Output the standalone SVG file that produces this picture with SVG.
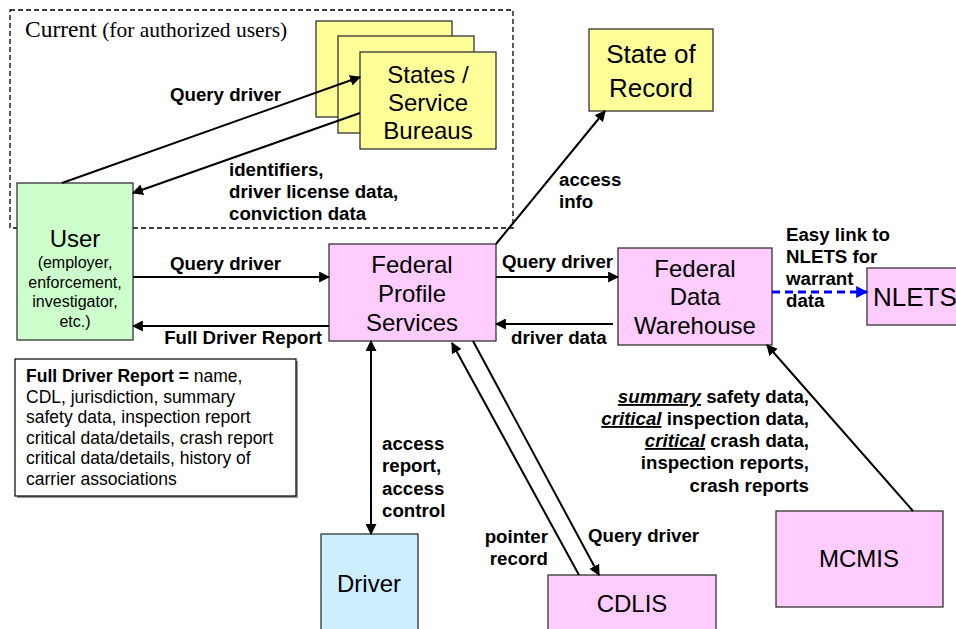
<svg xmlns="http://www.w3.org/2000/svg" width="956" height="629" viewBox="0 0 956 629">
<style>
.box{stroke:#333;stroke-width:1.3}
.y{fill:#ffff99}.p{fill:#ffccff}.g{fill:#ccffcc}.b{fill:#cceeff}
.nt{font-family:"Liberation Sans",Arial,sans-serif;font-size:24px;fill:#000;text-anchor:middle}
.lb{font-family:"Liberation Sans",Arial,sans-serif;font-size:18.7px;font-weight:bold;fill:#000}
.sm{font-family:"Liberation Sans",Arial,sans-serif;font-size:16px;fill:#000;text-anchor:middle}
.note{font-family:"Liberation Sans",Arial,sans-serif;font-size:17.5px;fill:#000}
.ln{stroke:#000;stroke-width:2;fill:none}
</style>
<defs>
<marker id="ah" viewBox="0 0 10 10" refX="9" refY="5" markerWidth="5.5" markerHeight="5.5" orient="auto-start-reverse"><path d="M0,0 L10,5 L0,10 z" fill="#000"/></marker>
<marker id="ahb" viewBox="0 0 10 10" refX="9" refY="5" markerWidth="4" markerHeight="4" orient="auto"><path d="M0,0 L10,5 L0,10 z" fill="#0000ff"/></marker>
</defs>
<rect x="0" y="0" width="956" height="629" fill="#fff"/>

<g id="current-region">
<rect x="10" y="10" width="503" height="218" fill="none" stroke="#000" stroke-width="1.3" stroke-dasharray="5,3"/>
<text x="25" y="37" font-family="Liberation Serif,Times New Roman,serif" fill="#000"><tspan font-size="23.5">Current</tspan><tspan font-size="21.5"> (for authorized users)</tspan></text>
</g>

<g id="states">
<rect class="box y" x="316" y="21" width="136" height="96"/>
<rect class="box y" x="338" y="36" width="136" height="97"/>
<rect class="box y" x="360" y="52" width="136" height="97"/>
<text class="nt" x="428" y="83">States /</text>
<text class="nt" x="428" y="111">Service</text>
<text class="nt" x="428" y="139">Bureaus</text>
</g>

<g id="state-of-record">
<rect class="box y" x="589" y="29" width="124" height="82"/>
<text class="nt" x="651" y="63" style="font-size:26px">State of</text>
<text class="nt" x="651" y="97" style="font-size:26px">Record</text>
</g>

<g id="user">
<rect class="box g" x="17" y="183" width="116" height="157"/>
<text class="nt" x="75" y="247">User</text>
<text class="sm" x="75" y="268">(employer,</text>
<text class="sm" x="75" y="288">enforcement,</text>
<text class="sm" x="75" y="307">investigator,</text>
<text class="sm" x="75" y="327">etc.)</text>
</g>

<g id="fps">
<rect class="box p" x="329" y="244" width="167" height="97"/>
<text class="nt" x="412" y="273">Federal</text>
<text class="nt" x="412" y="302">Profile</text>
<text class="nt" x="412" y="331">Services</text>
</g>

<g id="fdw">
<rect class="box p" x="618" y="248" width="154" height="97"/>
<text class="nt" x="695" y="277">Federal</text>
<text class="nt" x="695" y="305">Data</text>
<text class="nt" x="695" y="334">Warehouse</text>
</g>

<g id="nlets">
<rect class="box p" x="867" y="268" width="100" height="57"/>
<text class="nt" x="873" y="306" style="text-anchor:start;font-size:26px">NLETS</text>
</g>

<g id="driver">
<rect class="box b" x="321" y="534" width="97" height="100"/>
<text class="nt" x="369" y="592">Driver</text>
</g>

<g id="cdlis">
<rect class="box p" x="548" y="575" width="168" height="60"/>
<text class="nt" x="632" y="612">CDLIS</text>
</g>

<g id="mcmis">
<rect class="box p" x="776" y="511" width="167" height="96"/>
<text class="nt" x="859" y="567">MCMIS</text>
</g>

<g id="full-driver-report-note">
<rect x="17" y="361" width="281" height="137" fill="#999"/>
<rect x="15" y="359" width="281" height="137" fill="#fff" stroke="#000" stroke-width="1.2"/>
<text class="note" x="26" y="382"><tspan font-weight="bold">Full Driver Report =</tspan> name,</text>
<text class="note" x="26" y="403">CDL, jurisdiction, summary</text>
<text class="note" x="26" y="423">safety data, inspection report</text>
<text class="note" x="26" y="444">critical data/details, crash report</text>
<text class="note" x="26" y="464">critical data/details, history of</text>
<text class="note" x="26" y="485">carrier associations</text>
</g>

<g id="connectors">
<line class="ln" x1="62" y1="183" x2="360" y2="77" marker-end="url(#ah)"/>
<line class="ln" x1="360" y1="113" x2="133" y2="193" marker-end="url(#ah)"/>
<line class="ln" x1="496" y1="244" x2="605" y2="111" marker-end="url(#ah)"/>
<line class="ln" x1="133" y1="277" x2="329" y2="277" marker-end="url(#ah)"/>
<line class="ln" x1="329" y1="326" x2="133" y2="326" marker-end="url(#ah)"/>
<line class="ln" x1="496" y1="277" x2="618" y2="277" marker-end="url(#ah)"/>
<line class="ln" x1="613" y1="324" x2="496" y2="324" marker-end="url(#ah)"/>
<line class="ln" x1="371" y1="341" x2="371" y2="534" marker-start="url(#ah)" marker-end="url(#ah)"/>
<line class="ln" x1="579" y1="575" x2="452" y2="343" marker-end="url(#ah)"/>
<line class="ln" x1="473" y1="341" x2="599" y2="575" marker-end="url(#ah)"/>
<line class="ln" x1="913" y1="511" x2="767" y2="345" marker-end="url(#ah)"/>
<line x1="772" y1="292" x2="867" y2="292" stroke="#0000ff" stroke-width="3" stroke-dasharray="8,5" marker-end="url(#ahb)"/>

<text class="lb" x="170" y="101">Query driver</text>
<text class="lb" x="229" y="176">identifiers,</text>
<text class="lb" x="229" y="198">driver license data,</text>
<text class="lb" x="229" y="220">conviction data</text>
<text class="lb" x="559" y="186">access</text>
<text class="lb" x="559" y="208">info</text>
<text class="lb" x="170" y="270">Query driver</text>
<text class="lb" x="322" y="344" text-anchor="end">Full Driver Report</text>
<text class="lb" x="502" y="268">Query driver</text>
<text class="lb" x="511" y="344">driver data</text>
<text class="lb" x="786" y="241">Easy link to</text>
<text class="lb" x="786" y="263">NLETS for</text>
<text class="lb" x="786" y="285">warrant</text>
<text class="lb" x="786" y="307">data</text>
<text class="lb" x="382" y="450">access</text>
<text class="lb" x="382" y="472">report,</text>
<text class="lb" x="382" y="495">access</text>
<text class="lb" x="382" y="517">control</text>
<text class="lb" x="548" y="543" text-anchor="end">pointer</text>
<text class="lb" x="548" y="565" text-anchor="end">record</text>
<text class="lb" x="588" y="542">Query driver</text>
<text class="lb" x="809" y="403" text-anchor="end"><tspan font-style="italic" text-decoration="underline">summary</tspan> safety data,</text>
<text class="lb" x="809" y="425" text-anchor="end"><tspan font-style="italic" text-decoration="underline">critical</tspan> inspection data,</text>
<text class="lb" x="809" y="447" text-anchor="end"><tspan font-style="italic" text-decoration="underline">critical</tspan> crash data,</text>
<text class="lb" x="809" y="469" text-anchor="end">inspection reports,</text>
<text class="lb" x="809" y="492" text-anchor="end">crash reports</text>
</g>
</svg>
